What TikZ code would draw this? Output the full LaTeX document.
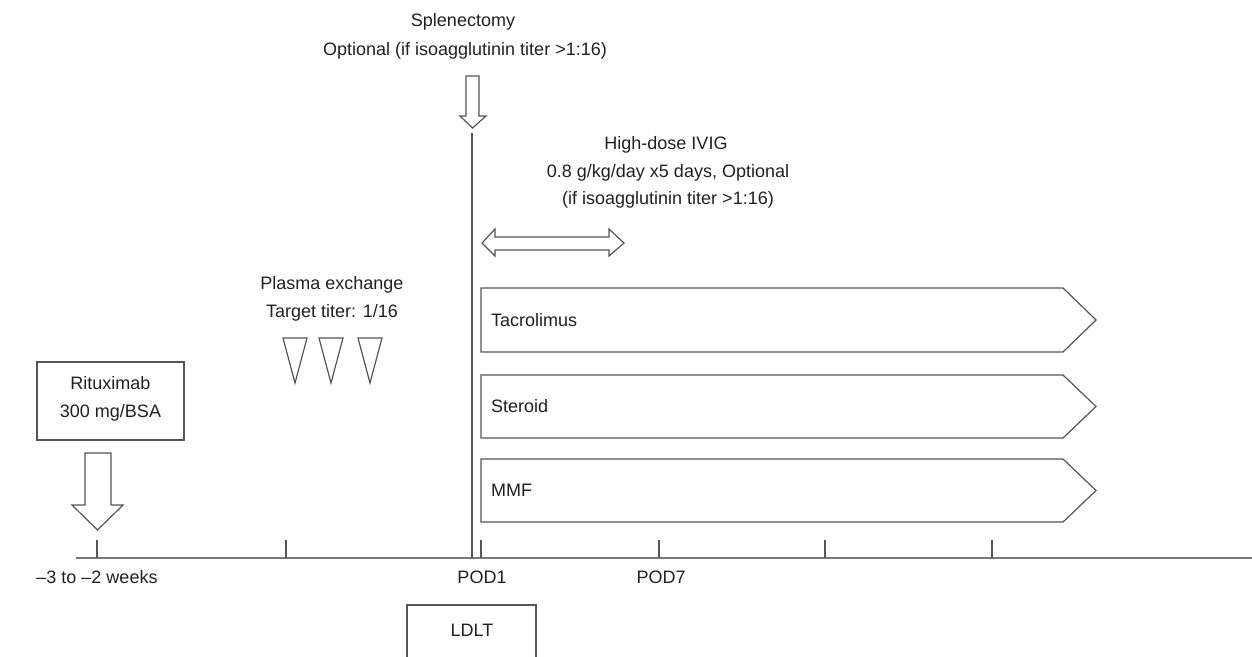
\documentclass[tikz,border=0pt]{standalone}
\usepackage{fontspec}
\setmainfont{Liberation Sans}
\definecolor{lc}{RGB}{85,85,85}
\definecolor{ac}{RGB}{120,120,120}
\definecolor{tc}{RGB}{35,31,32}
\begin{document}
\begin{tikzpicture}[x=1pt,y=-1pt,
  font=\fontsize{18}{28}\selectfont,
  ln/.style={draw=lc, line width=1.2pt},
  axisln/.style={draw=ac, line width=1.4pt},
  shp/.style={draw=lc, line width=1.2pt, fill=white, line join=miter},
  lbl/.style={text=tc, inner sep=0pt, align=center},
  boxlbl/.style={text=tc, inner sep=0pt, anchor=west}]
\useasboundingbox (0,0) rectangle (1252,656);

% timeline
\coordinate (tl0) at (76,558);
\coordinate (tl1) at (1252,558);
\draw[axisln] (tl0) -- (tl1);
\foreach \x in {97,286,481,659,825,992}
  \draw[ln] (\x,540) -- (\x,558);

% LDLT day vertical line
\coordinate (ltop) at (472,133);
\coordinate (lbot) at (472,558);
\draw[ln] (ltop) -- (lbot);

% axis labels
\node[lbl] (wk) at (97,577) {\textendash 3 to \textendash 2 weeks};
\node[lbl] (pod1) at (482,577) {POD1};
\node[lbl] (pod7) at (661,577) {POD7};

% LDLT box (bottom cut by page edge)
\draw[ln] (407,662) -- (407,605) -- (536,605) -- (536,662);
\node[lbl] (ldlt) at (472,630) {LDLT};

% Rituximab
\node[draw=lc, line width=1.2pt, minimum width=147pt, minimum height=78pt, inner sep=0pt] (rit) at (110.5,401) {};
\node[lbl] (rit1) at (110.5,383) {Rituximab};
\node[lbl] (rit2) at (110.5,413) {300 mg/BSA};
\draw[shp] (85,453) -- (111,453) -- (111,505) -- (123,505) -- (97.5,530) -- (72,505) -- (85,505) -- cycle;

% Plasma exchange
\node[lbl] (pe1) at (332,285) {Plasma exchange};
\node[lbl] (pe2) at (332,313) {Target titer: 1/16};
\foreach \c in {295,331,370}
  \draw[shp] (\c-12,338) -- (\c+12,338) -- (\c,383) -- cycle;

% Splenectomy
\node[lbl] (sp1) at (463,22) {Splenectomy};
\node[lbl] (sp2) at (465,51) {Optional (if isoagglutinin titer >1:16)};
\draw[shp] (466,76) -- (479,76) -- (479,116) -- (486,116) -- (472.5,128) -- (460,116) -- (466,116) -- cycle;

% IVIG
\node[lbl] (iv1) at (666,145) {High-dose IVIG};
\node[lbl] (iv2) at (668,173) {0.8 g/kg/day x5 days, Optional};
\node[lbl] (iv3) at (668,200) {(if isoagglutinin titer >1:16)};
\draw[shp] (482,243) -- (495,229) -- (495,237) -- (609,237) -- (609,229) -- (624,243)
  -- (609,256) -- (609,250) -- (495,250) -- (495,256) -- cycle;

% drug pentagons
\draw[shp] (481,288) -- (1063,288) -- (1096,320) -- (1063,352) -- (481,352) -- cycle;
\node[boxlbl] (tac) at (491,320) {Tacrolimus};
\draw[shp] (481,375) -- (1063,375) -- (1096,406.5) -- (1063,438) -- (481,438) -- cycle;
\node[boxlbl] (ster) at (491,406.5) {Steroid};
\draw[shp] (481,459) -- (1063,459) -- (1096,490.5) -- (1063,522) -- (481,522) -- cycle;
\node[boxlbl] (mmf) at (491,490.5) {MMF};
\end{tikzpicture}
\end{document}
